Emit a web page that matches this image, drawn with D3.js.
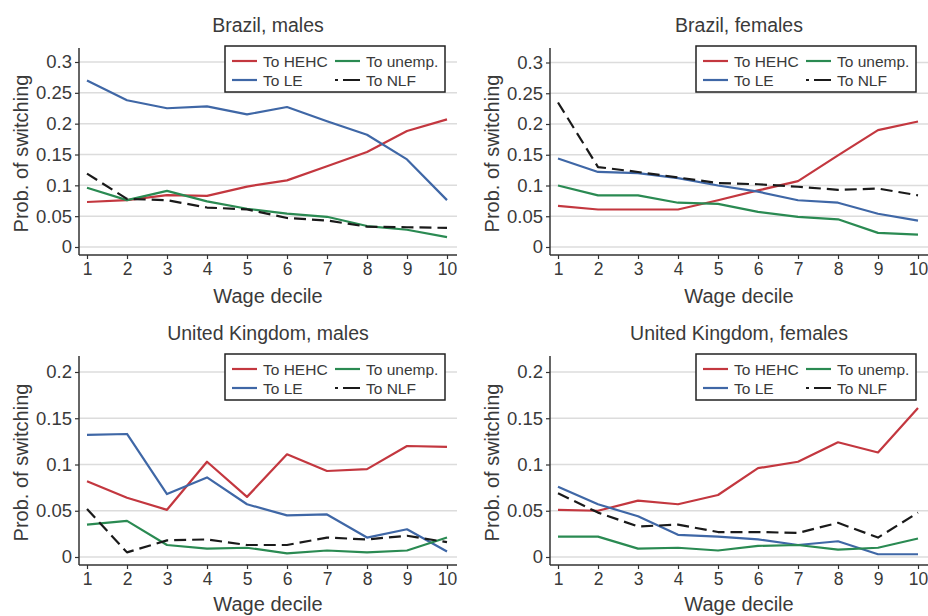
<!DOCTYPE html>
<html>
<head>
<meta charset="utf-8">
<script src="https://cdn.jsdelivr.net/npm/d3@7"></script>
<style>
  html, body { margin: 0; padding: 0; background: #fff; }
  svg { display: block; font-family: "Liberation Sans", Arial, Helvetica, sans-serif; }
</style>
</head>
<body>
<svg id="chart" width="928" height="616"></svg>
<script>
// ---------- DATA ----------
const deciles = [1, 2, 3, 4, 5, 6, 7, 8, 9, 10];
const seriesNames = ["To HEHC", "To LE", "To unemp.", "To NLF"];
const panelTitles = ["Brazil, males", "Brazil, females", "United Kingdom, males", "United Kingdom, females"];

const brMaleHEHC   = [0.073, 0.076, 0.084, 0.083, 0.098, 0.108, 0.131, 0.154, 0.188, 0.207];
const brMaleLE     = [0.270, 0.238, 0.225, 0.228, 0.215, 0.227, 0.204, 0.182, 0.142, 0.076];
const brMaleUnemp  = [0.096, 0.076, 0.091, 0.074, 0.062, 0.054, 0.049, 0.034, 0.028, 0.016];
const brMaleNLF    = [0.119, 0.078, 0.076, 0.064, 0.061, 0.047, 0.043, 0.033, 0.032, 0.031];

const brFemHEHC    = [0.067, 0.061, 0.061, 0.061, 0.076, 0.092, 0.107, 0.149, 0.190, 0.204];
const brFemLE      = [0.144, 0.122, 0.120, 0.112, 0.100, 0.090, 0.076, 0.072, 0.054, 0.043];
const brFemUnemp   = [0.100, 0.084, 0.084, 0.072, 0.070, 0.057, 0.049, 0.045, 0.023, 0.020];
const brFemNLF     = [0.235, 0.130, 0.122, 0.113, 0.104, 0.102, 0.098, 0.093, 0.095, 0.084];

const ukMaleHEHC   = [0.082, 0.064, 0.051, 0.103, 0.065, 0.111, 0.093, 0.095, 0.120, 0.119];
const ukMaleLE     = [0.132, 0.133, 0.068, 0.086, 0.057, 0.045, 0.046, 0.021, 0.030, 0.006];
const ukMaleUnemp  = [0.035, 0.039, 0.013, 0.009, 0.010, 0.004, 0.007, 0.005, 0.007, 0.021];
const ukMaleNLF    = [0.052, 0.005, 0.018, 0.019, 0.013, 0.013, 0.021, 0.019, 0.023, 0.016];

const ukFemHEHC    = [0.051, 0.050, 0.061, 0.057, 0.067, 0.096, 0.103, 0.124, 0.113, 0.161];
const ukFemLE      = [0.076, 0.057, 0.044, 0.024, 0.022, 0.019, 0.013, 0.017, 0.003, 0.003];
const ukFemUnemp   = [0.022, 0.022, 0.009, 0.010, 0.007, 0.012, 0.013, 0.008, 0.010, 0.020];
const ukFemNLF     = [0.069, 0.048, 0.033, 0.035, 0.027, 0.027, 0.026, 0.037, 0.021, 0.048];

const brYTicks = [0, 0.05, 0.1, 0.15, 0.2, 0.25, 0.3];
const ukYTicks = [0, 0.05, 0.1, 0.15, 0.2];
const brYTickLabels = ["0", "0.05", "0.1", "0.15", "0.2", "0.25", "0.3"];
const ukYTickLabels = ["0", "0.05", "0.1", "0.15", "0.2"];
const xTickLabels = ["1", "2", "3", "4", "5", "6", "7", "8", "9", "10"];

// ---------- STYLE ----------
const colors = { "To HEHC": "#c3373f", "To LE": "#3f67a6", "To unemp.": "#2a8a52", "To NLF": "#1a1a1a" };
const dashes = { "To HEHC": null, "To LE": null, "To unemp.": null, "To NLF": "12,6" };

const panelData = [
  [brMaleHEHC, brMaleLE, brMaleUnemp, brMaleNLF],
  [brFemHEHC, brFemLE, brFemUnemp, brFemNLF],
  [ukMaleHEHC, ukMaleLE, ukMaleUnemp, ukMaleNLF],
  [ukFemHEHC, ukFemLE, ukFemUnemp, ukFemNLF]
];

const panels = [
  { ox: 0,   oy: 0,   axisX: 79, yTicks: brYTicks, yLabels: brYTickLabels, yMax: 0.3, yZero: 247, yMaxPx: 62, axisTop: 48, axisBottom: 255 },
  { ox: 464, oy: 0,   axisX: 86, yTicks: brYTicks, yLabels: brYTickLabels, yMax: 0.3, yZero: 247, yMaxPx: 62.5, axisTop: 48, axisBottom: 255 },
  { ox: 0,   oy: 308, axisX: 79, yTicks: ukYTicks, yLabels: ukYTickLabels, yMax: 0.2, yZero: 249, yMaxPx: 64, axisTop: 48, axisBottom: 257 },
  { ox: 464, oy: 308, axisX: 86, yTicks: ukYTicks, yLabels: ukYTickLabels, yMax: 0.2, yZero: 249, yMaxPx: 64, axisTop: 48, axisBottom: 257 }
];

const svg = d3.select("#chart");
const txt = "#3a3a3a";

panels.forEach((p, i) => {
  const g = svg.append("g").attr("transform", `translate(${p.ox},${p.oy})`);
  const x = d3.scaleLinear().domain([1, 10]).range([p.axisX + 8, p.axisX + 368]);
  const y = d3.scaleLinear().domain([0, p.yMax]).range([p.yZero, p.yMaxPx]);
  const xRight = p.axisX + 378;

  // gridlines
  g.append("g").selectAll("line").data(p.yTicks).join("line")
    .attr("x1", p.axisX).attr("x2", xRight)
    .attr("y1", d => y(d)).attr("y2", d => y(d))
    .attr("stroke", "#dcdcdc").attr("stroke-width", 1.5);

  // y axis
  const yAxis = d3.axisLeft(y).tickValues(p.yTicks)
    .tickFormat((d, k) => p.yLabels[k]).tickSize(4).tickPadding(3);
  const ya = g.append("g").attr("transform", `translate(${p.axisX},0)`).call(yAxis);
  ya.select(".domain").remove();
  ya.selectAll("line").attr("stroke", "#333").attr("stroke-width", 1.2);
  ya.selectAll("text").attr("font-size", 18.5).attr("fill", txt)
    .attr("font-family", "Liberation Sans, Arial, sans-serif")
    .attr("textLength", null);
  g.append("line").attr("x1", p.axisX).attr("x2", p.axisX)
    .attr("y1", p.axisTop).attr("y2", p.axisBottom)
    .attr("stroke", "#333").attr("stroke-width", 1.5);

  // x axis
  const xAxis = d3.axisBottom(x).tickValues(deciles)
    .tickFormat((d, k) => xTickLabels[k]).tickSize(4).tickPadding(4);
  const xa = g.append("g").attr("transform", `translate(0,${p.axisBottom})`).call(xAxis);
  xa.select(".domain").remove();
  xa.selectAll("line").attr("stroke", "#333").attr("stroke-width", 1.2);
  xa.selectAll("text").attr("font-size", 17.5).attr("fill", txt).attr("font-family", "Liberation Sans, Arial, sans-serif");
  g.append("line").attr("x1", p.axisX).attr("x2", xRight)
    .attr("y1", p.axisBottom).attr("y2", p.axisBottom)
    .attr("stroke", "#333").attr("stroke-width", 1.5);

  // lines
  const line = d3.line().x((d, k) => x(deciles[k])).y(d => y(d));
  seriesNames.forEach((name, s) => {
    g.append("path").datum(panelData[i][s])
      .attr("d", line)
      .attr("fill", "none")
      .attr("stroke", colors[name])
      .attr("stroke-width", 2.2)
      .attr("stroke-dasharray", dashes[name])
      .attr("stroke-linejoin", "round");
  });

  // title
  g.append("text").attr("x", (p.axisX + xRight) / 2).attr("y", 32)
    .attr("text-anchor", "middle").attr("font-size", 19.5).attr("fill", txt)
    .text(panelTitles[i]);

  // x label
  g.append("text").attr("x", (p.axisX + xRight) / 2).attr("y", 303)
    .attr("text-anchor", "middle").attr("font-size", 20).attr("fill", txt)
    .text("Wage decile");

  // y label
  g.append("text").attr("transform", `translate(${p.axisX - 51},${(p.axisTop + p.axisBottom) / 2 + 2}) rotate(-90)`)
    .attr("text-anchor", "middle").attr("font-size", 20).attr("fill", txt)
    .text("Prob. of switching");

  // legend
  const lg = g.append("g").attr("transform", `translate(${p.axisX + 146},46)`);
  lg.append("rect").attr("x", 0).attr("y", 0).attr("width", 220).attr("height", 46)
    .attr("fill", "#fff").attr("stroke", "#222").attr("stroke-width", 1.5);
  const items = [
    { name: "To HEHC", cx: 7, cy: 15 },
    { name: "To unemp.", cx: 110, cy: 15 },
    { name: "To LE", cx: 7, cy: 34 },
    { name: "To NLF", cx: 110, cy: 34 }
  ];
  items.forEach(it => {
    lg.append("line").attr("x1", it.cx).attr("x2", it.cx + 25)
      .attr("y1", it.cy).attr("y2", it.cy)
      .attr("stroke", colors[it.name]).attr("stroke-width", 2.2)
      .attr("stroke-dasharray", it.name === "To NLF" ? "3,5,17" : null);
    lg.append("text").attr("x", it.cx + 31).attr("y", it.cy + 5.5)
      .attr("font-size", 15.5).attr("fill", txt).text(it.name);
  });
});
</script>
</body>
</html>
